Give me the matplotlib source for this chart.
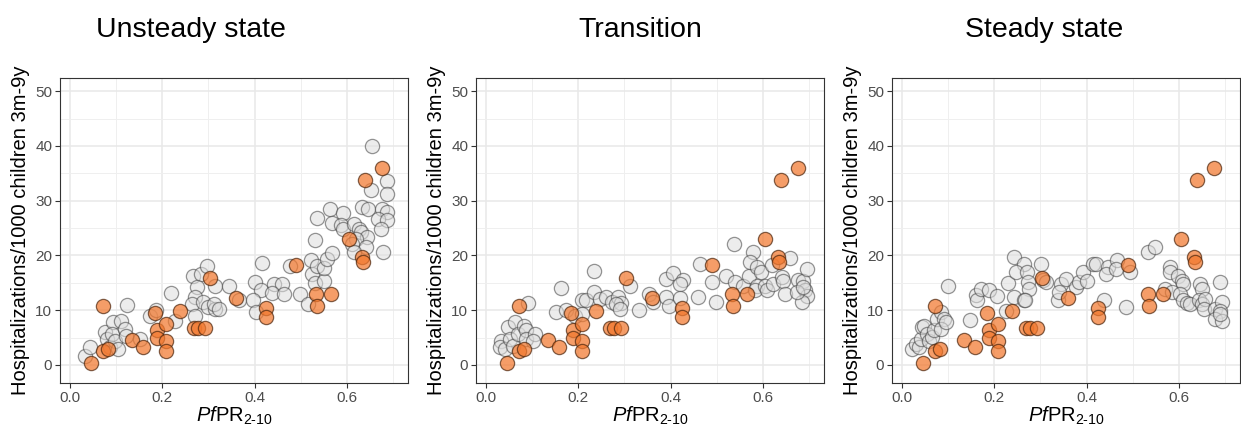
import numpy as np
import matplotlib
matplotlib.use("Agg")
import matplotlib.pyplot as plt

plt.rcParams['font.family'] = ['Liberation Sans', 'DejaVu Sans']
plt.rcParams['mathtext.fontset'] = 'custom'
plt.rcParams['mathtext.rm'] = 'Liberation Sans'
plt.rcParams['mathtext.it'] = 'Liberation Sans:italic'

# observed (orange) points, same in every panel
obs_x = [0.071, 0.046, 0.071, 0.082, 0.134, 0.158, 0.184, 0.189, 0.189, 0.207, 0.209, 0.209,
         0.238, 0.268, 0.278, 0.292, 0.303, 0.360, 0.426, 0.426, 0.491, 0.533, 0.536, 0.566,
         0.605, 0.634, 0.636, 0.639, 0.677]
obs_y = [10.85, 0.4, 2.6, 2.9, 4.6, 3.2, 9.5, 6.4, 4.9, 7.5, 4.4, 2.5,
         9.8, 6.8, 6.8, 6.8, 15.9, 12.25, 10.4, 8.7, 18.3, 13.0, 10.85, 13.0,
         23.05, 19.8, 18.8, 33.8, 36.0]

# modelled (grey) points per panel
unsteady_x = [0.033, 0.043, 0.075, 0.079, 0.086, 0.093, 0.090, 0.097, 0.104, 0.111, 0.119, 0.122,
              0.124, 0.151, 0.174, 0.186, 0.219, 0.227, 0.267, 0.283, 0.296, 0.275, 0.271, 0.264,
              0.289, 0.300, 0.271, 0.314, 0.315, 0.344, 0.366, 0.312, 0.323, 0.417, 0.402, 0.413,
              0.397, 0.404, 0.442, 0.460, 0.438, 0.464, 0.477, 0.498, 0.515, 0.525, 0.531, 0.551,
              0.522, 0.536, 0.551, 0.558, 0.569, 0.531, 0.536, 0.564, 0.591, 0.569, 0.587, 0.591,
              0.616, 0.627, 0.630, 0.645, 0.620, 0.612, 0.641, 0.616, 0.654, 0.688, 0.652, 0.688,
              0.634, 0.646, 0.677, 0.687, 0.667, 0.688, 0.674, 0.678]
unsteady_y = [1.7, 3.35, 6.0, 4.75, 3.2, 7.8, 5.7, 4.45, 2.9, 8.1, 6.6, 5.35,
              11.0, 4.75, 9.0, 10.1, 13.2, 8.1, 16.3, 16.6, 18.0, 14.2, 12.4, 11.2,
              11.45, 10.5, 9.0, 10.2, 14.5, 14.5, 11.8, 11.2, 10.2, 18.6, 15.2, 13.6,
              11.9, 9.6, 14.8, 14.8, 13.1, 13.0, 18.0, 13.0, 11.2, 16.6, 14.9, 15.4,
              19.1, 18.0, 17.7, 19.4, 20.4, 22.9, 26.8, 28.5, 27.7, 25.9, 25.5, 24.9,
              25.7, 24.9, 24.3, 23.3, 23.0, 22.1, 21.5, 20.6, 39.9, 33.6, 32.0, 31.3,
              28.8, 28.5, 28.4, 27.9, 26.7, 26.5, 24.9, 20.6]

transition_x = [0.033, 0.029, 0.040, 0.047, 0.062, 0.051, 0.058, 0.069, 0.083, 0.087, 0.087, 0.105,
                0.101, 0.090, 0.163, 0.151, 0.174, 0.192, 0.208, 0.217, 0.235, 0.234, 0.208, 0.246,
                0.261, 0.272, 0.286, 0.293, 0.312, 0.282, 0.290, 0.332, 0.354, 0.362, 0.390, 0.406,
                0.427, 0.420, 0.391, 0.397, 0.420, 0.460, 0.465, 0.489, 0.499, 0.520, 0.538, 0.540,
                0.558, 0.571, 0.580, 0.572, 0.587, 0.596, 0.587, 0.584, 0.605, 0.609, 0.623, 0.620,
                0.641, 0.645, 0.660, 0.649, 0.677, 0.688, 0.697, 0.692, 0.696, 0.685, 0.674, 0.688]
transition_y = [4.45, 3.2, 2.9, 6.9, 7.8, 4.75, 3.5, 5.7, 7.2, 6.3, 4.75, 5.7,
                4.45, 11.3, 14.1, 9.6, 10.1, 9.0, 11.9, 11.9, 17.1, 13.3, 9.3, 12.1,
                12.4, 11.45, 12.4, 11.3, 14.5, 11.2, 10.2, 10.1, 12.9, 11.45, 15.7, 16.8,
                15.5, 14.8, 12.4, 10.7, 12.25, 12.4, 18.5, 15.1, 11.45, 16.2, 22.0, 15.1,
                14.5, 16.2, 20.6, 18.8, 17.9, 16.9, 14.5, 13.6, 14.5, 13.6, 14.8, 18.2,
                16.0, 15.3, 19.6, 12.9, 15.5, 15.4, 17.6, 13.6, 12.5, 11.45, 13.3, 14.3]

steady_x = [0.022, 0.029, 0.036, 0.040, 0.043, 0.047, 0.054, 0.058, 0.065, 0.069, 0.076, 0.084,
            0.091, 0.084, 0.095, 0.100, 0.147, 0.160, 0.163, 0.171, 0.189, 0.205, 0.225, 0.229,
            0.243, 0.265, 0.246, 0.270, 0.272, 0.276, 0.243, 0.265, 0.301, 0.305, 0.267, 0.312,
            0.338, 0.345, 0.356, 0.341, 0.378, 0.383, 0.392, 0.401, 0.415, 0.421, 0.447, 0.443,
            0.467, 0.465, 0.494, 0.534, 0.548, 0.439, 0.485, 0.581, 0.581, 0.599, 0.608, 0.610,
            0.570, 0.585, 0.603, 0.610, 0.617, 0.625, 0.646, 0.650, 0.690, 0.643, 0.650, 0.657,
            0.654, 0.679, 0.694, 0.690, 0.679, 0.694, 0.690]
steady_y = [2.9, 3.8, 3.2, 4.75, 6.9, 7.2, 5.7, 4.45, 5.05, 6.3, 8.4, 9.6,
            8.4, 6.6, 7.8, 14.5, 8.2, 12.7, 11.9, 13.9, 13.6, 12.55, 9.9, 14.9,
            19.7, 18.5, 16.9, 16.9, 15.1, 13.9, 12.4, 11.8, 18.5, 15.55, 11.9, 15.1,
            11.8, 14.8, 15.7, 13.3, 14.2, 15.1, 16.9, 15.4, 18.5, 18.5, 17.9, 16.6,
            19.2, 17.6, 16.9, 20.6, 21.6, 11.8, 10.5, 17.9, 16.9, 16.3, 15.4, 14.8,
            13.9, 13.3, 13.0, 11.8, 11.3, 11.2, 14.8, 13.9, 15.1, 11.8, 11.2, 12.1,
            10.2, 10.2, 11.45, 9.9, 8.4, 8.1, 9.3]

titles = ["Unsteady state", "Transition", "Steady state"]
grey_x = [unsteady_x, transition_x, steady_x]
grey_y = [unsteady_y, transition_y, steady_y]

W, H = 1241, 434
fig = plt.figure(figsize=(W / 100, H / 100), dpi=100)

lefts = [60, 476, 892]
title_cx = [191, 640, 1044]
for i in range(3):
    ax = fig.add_axes([lefts[i] / W, (H - 383) / H, 348 / W, 305 / H])
    ax.scatter(grey_x[i], grey_y[i], s=105, facecolor=(0.87, 0.87, 0.87, 0.55),
               edgecolor=(0.25, 0.25, 0.25, 0.55), linewidth=0.9, zorder=3)
    ax.scatter(obs_x, obs_y, s=105, facecolor=(0.95, 0.47, 0.18, 0.72),
               edgecolor=(0.3, 0.15, 0.05, 0.7), linewidth=0.9, zorder=4)
    ax.set_xlim(-0.022, 0.733)
    ax.set_ylim(-3.3, 52.4)
    ax.set_xticks([0.0, 0.2, 0.4, 0.6])
    ax.set_xticks([0.1, 0.3, 0.5, 0.7], minor=True)
    ax.set_yticks([0, 10, 20, 30, 40, 50])
    ax.set_yticks([5, 15, 25, 35, 45], minor=True)
    ax.grid(which='major', color='#E8E8E8', linewidth=1.1, zorder=0)
    ax.grid(which='minor', color='#EFEFEF', linewidth=0.7, zorder=0)
    ax.set_axisbelow(True)
    ax.tick_params(which='major', length=3.5, width=0.8, color='#333333',
                   labelsize=11, labelcolor='#4D4D4D', pad=2)
    ax.tick_params(which='minor', length=0)
    for sp in ax.spines.values():
        sp.set_color('#333333')
        sp.set_linewidth(0.8)
    ax.set_ylabel("Hospitalizations/1000 children 3m-9y", fontsize=14.5, labelpad=4)
    ax.set_xlabel(r'$\mathit{Pf}\mathrm{PR}_{\mathrm{2\text{-}10}}$', fontsize=14.5, labelpad=0)
    fig.text(title_cx[i] / W, 1 - 30 / H, titles[i], fontsize=20.5, ha='center', va='center')

fig.savefig("out.png", dpi=100)
